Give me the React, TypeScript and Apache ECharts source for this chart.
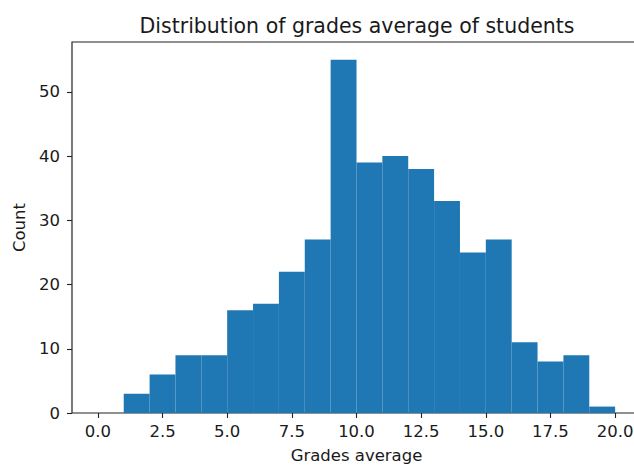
import React, { useEffect, useRef } from "react";
import * as echarts from "echarts";

const binEdges = [0, 1, 2, 3, 4, 5, 6, 7, 8, 9, 10, 11, 12, 13, 14, 15, 16, 17, 18, 19, 20];
const counts = [0, 3, 6, 9, 9, 16, 17, 22, 27, 55, 39, 40, 38, 33, 25, 27, 11, 8, 9, 1];
const xTicks = [0, 2.5, 5, 7.5, 10, 12.5, 15, 17.5, 20];
const yTicks = [0, 10, 20, 30, 40, 50];
const titleText = "Distribution of grades average of students";
const xName = "Grades average";
const yName = "Count";

const FONT = "DejaVu Sans";
const TEXT = "#1a1a1a";
const LABEL_SIZE = 16.5;

export default function App() {
  const ref = useRef<HTMLDivElement>(null);
  useEffect(() => {
    if (!ref.current) return;
    const chart = echarts.init(ref.current, null, { renderer: "svg" });
    const data = counts.map((c, i) => [binEdges[i], binEdges[i + 1], c]);
    chart.setOption({
      animation: false,
      backgroundColor: "#ffffff",
      grid: {
        left: 72,
        right: -7,
        top: 42,
        bottom: 53,
        containLabel: false,
        outerBoundsMode: "none",
        show: true,
        borderColor: "#222",
        borderWidth: 1.2,
        backgroundColor: "transparent",
      },
      graphic: [
        {
          type: "text",
          x: 357,
          y: 25.5,
          style: {
            text: titleText,
            fontFamily: FONT,
            fontSize: 20.5,
            fill: TEXT,
            textAlign: "center",
            textVerticalAlign: "middle",
          },
        },
      ],
      xAxis: {
        type: "value",
        min: -1,
        max: 21,
        name: xName,
        nameLocation: "middle",
        nameGap: 34,
        nameTextStyle: { fontFamily: FONT, fontSize: LABEL_SIZE, color: TEXT },
        axisLine: { show: false, onZero: false },
        splitLine: { show: false },
        axisTick: {
          show: true,
          inside: false,
          length: 5,
          customValues: xTicks,
          lineStyle: { color: "#222", width: 1.1 },
        },
        axisLabel: {
          customValues: xTicks,
          margin: 10,
          fontFamily: FONT,
          fontSize: LABEL_SIZE,
          color: TEXT,
          formatter: (v: number) => v.toFixed(1),
        },
      },
      yAxis: {
        type: "value",
        min: 0,
        max: 57.75,
        name: yName,
        nameLocation: "middle",
        nameGap: 41,
        nameTextStyle: { fontFamily: FONT, fontSize: LABEL_SIZE, color: TEXT },
        axisLine: { show: false, onZero: false },
        splitLine: { show: false },
        axisTick: {
          show: true,
          inside: false,
          length: 5,
          customValues: yTicks,
          lineStyle: { color: "#222", width: 1.1 },
        },
        axisLabel: {
          customValues: yTicks,
          margin: 12,
          fontFamily: FONT,
          fontSize: LABEL_SIZE,
          color: TEXT,
          formatter: (v: number) => String(v),
        },
      },
      series: [
        {
          type: "custom",
          encode: { x: [0, 1], y: 2 },
          data,
          renderItem: (params: any, api: any) => {
            const start = api.coord([api.value(0), api.value(2)]);
            const end = api.coord([api.value(1), 0]);
            return {
              type: "rect",
              shape: {
                x: start[0],
                y: start[1],
                width: end[0] - start[0],
                height: end[1] - start[1],
              },
              style: {
                fill: "#1f77b4",
              },
            };
          },
        },
      ],
    });
    return () => chart.dispose();
  }, []);
  return (
    <div
      ref={ref}
      style={{ position: "fixed", left: 0, top: 0, width: 634, height: 466 }}
    />
  );
}
